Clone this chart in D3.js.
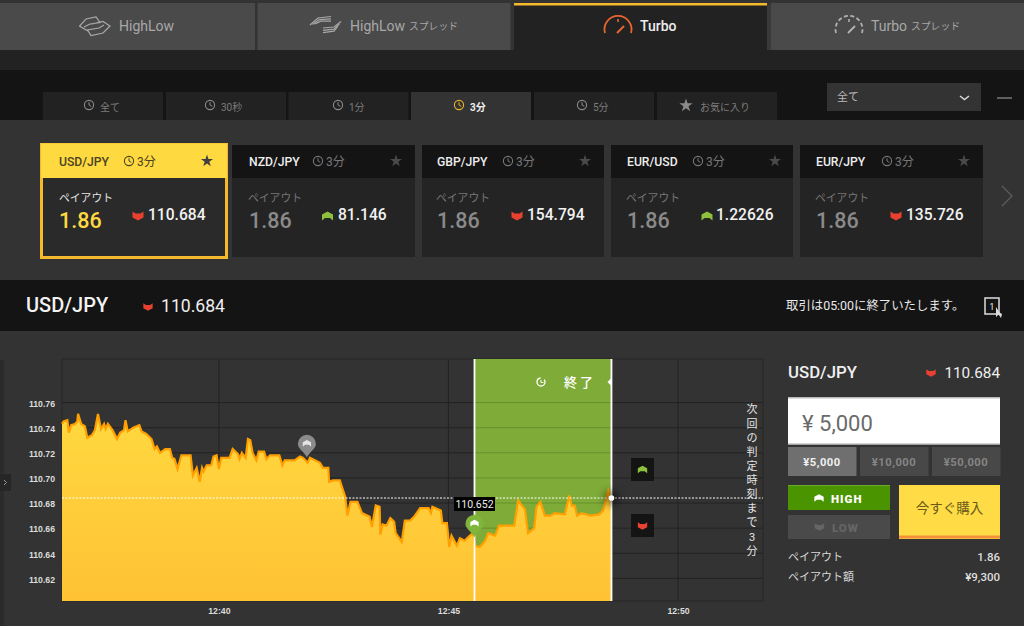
<!DOCTYPE html>
<html lang="ja"><head><meta charset="utf-8">
<script src="https://cdn.jsdelivr.net/npm/d3@7/dist/d3.min.js"></script>
<style>html,body{margin:0;padding:0;background:#333;overflow:hidden}svg{display:block}
text{font-family:Roboto,"Noto Sans CJK JP",sans-serif}</style></head><body>
<svg id="c" width="1024" height="626" viewBox="0 0 1024 626"></svg>
<script>
// seconds relative to 12:40:00
const seconds=[-205,-203,-198,-196,-193,-188,-185,-184,-180,-175,-172,-166,-162,-158,-154,-150,-148,-145,-139,-133,-129,-124,-122,-119,-112,-104,-101,-95,-88,-84,-81,-77,-70,-64,-61,-58,-54,-49,-37,-34,-29,-25,-22,-20,-16,-10,-7,-3,0,3,14,18,25,27,30,35,38,41,44,49,52,59,62,67,79,83,86,99,106,110,116,119,132,136,143,144,149,158,165,168,172,181,187,197,200,205,210,211,214,219,224,229,231,239,243,250,255,263,274,277,279,290,292,298,301,304,311,315,321,328,332,335,341,348,352,361,366,386,391,400,404,412,415,420,426,433,439,452,458,461,465,468,474,485,497,502,509,513];
const prices=[110.743,110.745,110.746,110.736,110.742,110.743,110.745,110.751,110.743,110.741,110.732,110.734,110.738,110.751,110.739,110.743,110.739,110.743,110.738,110.731,110.736,110.738,110.746,110.737,110.740,110.742,110.737,110.735,110.731,110.723,110.725,110.720,110.723,110.723,110.716,110.715,110.707,110.718,110.718,110.702,110.708,110.697,110.708,110.705,110.710,110.710,110.717,110.718,110.707,110.716,110.716,110.723,110.719,110.715,110.720,110.716,110.731,110.730,110.720,110.714,110.721,110.721,110.715,110.718,110.718,110.710,110.714,110.714,110.717,110.716,110.712,110.716,110.712,110.708,110.708,110.697,110.698,110.698,110.685,110.670,110.681,110.681,110.672,110.669,110.661,110.678,110.677,110.655,110.663,110.662,110.668,110.665,110.656,110.649,110.666,110.666,110.669,110.676,110.676,110.672,110.677,110.674,110.664,110.664,110.645,110.654,110.646,110.652,110.650,110.654,110.656,110.646,110.645,110.650,110.656,110.654,110.662,110.662,110.682,110.675,110.656,110.660,110.677,110.681,110.670,110.670,110.672,110.671,110.686,110.678,110.678,110.670,110.672,110.670,110.671,110.674,110.690,110.684];
const yTicks=[110.62,110.64,110.66,110.68,110.70,110.72,110.74,110.76];
const xTicks=[0,300,600];
const xTickLabels=["12:40","12:45","12:50"];
const currentPrice=110.684, entryPrice=110.652, entrySecond=334, expirySecond=513, markerSecond=115, markerPrice=110.722;
const subTabs=["全て","30秒","1分","3分","5分","お気に入り"];
const pairs=["USD/JPY","NZD/JPY","GBP/JPY","EUR/USD","EUR/JPY"];
const quotes=["110.684","81.146","154.794","1.22626","135.726"];
const directions=["down","up","down","up","down"];
const amounts=["¥5,000","¥10,000","¥50,000"];
const countdown=["次","回","の","判","定","時","刻","ま","で","3","分"];

const svg=d3.select("#c");
const RED="#e8412f",GRN="#8dc03c",YEL="#ffd940";
const rect=(x,y,w,h,f,g=svg)=>g.append("rect").attr("x",x).attr("y",y).attr("width",w).attr("height",h).attr("fill",f);
const txt=(x,y,s,size,fill,opt={},g=svg)=>g.append("text").attr("x",x).attr("y",y).text(s).attr("font-size",size).attr("fill",fill)
  .attr("font-weight",opt.w||400).attr("text-anchor",opt.a||"start").attr("font-family",opt.f||null);
function chev(x,y,dir,col,s=1,g=svg){ // centred chevron marker
  const d=dir==="up"?"M-5.5,4.5 L-5.5,-1.5 L0,-4.5 L5.5,-1.5 L5.5,4.5 L2.5,2 L-2.5,2 Z":"M-5.5,-4.5 L-2.5,-2.5 L2.5,-2.5 L5.5,-4.5 L5.5,1.5 L0,4.5 L-5.5,1.5 Z";
  g.append("path").attr("d",d).attr("transform",`translate(${x},${y}) scale(${s})`).attr("fill",col);
}
function clock(x,y,col,r=4.6){
  svg.append("circle").attr("cx",x).attr("cy",y).attr("r",r).attr("fill","none").attr("stroke",col).attr("stroke-width",1.1);
  svg.append("path").attr("d",`M${x},${y-r*.6} V${y} L${x+r*.5},${y+r*.3}`).attr("fill","none").attr("stroke",col).attr("stroke-width",1);
}
function star(x,y,r,col){
  svg.append("path").attr("d",d3.symbol().type(d3.symbolStar).size(r*r*2.6)()).attr("transform",`translate(${x},${y})`).attr("fill",col);
}
// page bands
rect(0,0,1024,626,"#333");
rect(0,50,1024,20,"#222");
rect(0,70,1024,50,"#141414");
rect(0,280,1024,51,"#141414");
// product tabs
const tabX=[0,257.5,514,771],tabW=[255,253,253,253];
tabX.forEach((tx,i)=>{
  const on=i===2;
  rect(tx,3,tabW[i],47,on?"#222":"#4a4a4a");
  if(on)rect(tx,3,tabW[i],2.5,"#f5b92e");
});
rect(767,5,4,45,"#3a3a3a");
const tc="#a8a8a8";
// tab icons
svg.append("path").attr("d","M88,31 L79.5,26 L86,19 L96,17 L100,22.5 L90,24 L84,27 M92,24 L103,21.5 L110,26 L103,33 L91,35.5 L87.5,30 L99,28 L104,25").attr("fill","none").attr("stroke",tc).attr("stroke-width",1.2);
[0,2.6,5.2].forEach(o=>{
  svg.append("path").attr("d",`M${310+o},${25-o*.2} L${318+o*.5},${18+o*.6} L${331},${16.5+o*.9}`).attr("fill","none").attr("stroke",tc).attr("stroke-width",1.2);
  svg.append("path").attr("d",`M${323},${28+o*.9} L${334},${27+o*.8} L${341-o*.6},${21.5+o*.9}`).attr("fill","none").attr("stroke",tc).attr("stroke-width",1.2);
});
function gauge(cx,col,dash){
  const p=svg.append("path").attr("d",`M${cx-13},33 A13.5,13.5 0 1 1 ${cx+13},33`).attr("fill","none").attr("stroke",col).attr("stroke-width",1.8);
  if(dash)p.attr("stroke-dasharray","4 2.5");
  svg.append("path").attr("d",`M${cx-1},33 L${cx+6},26`).attr("stroke",col).attr("stroke-width",2);
  svg.append("path").attr("d",`M${cx},19 V22`).attr("stroke",col).attr("stroke-width",1.6);
}
gauge(618,"#e8662f",false);gauge(849,"#b0b0b0",true);
txt(119,31,"HighLow",14,tc);
txt(350,31,"HighLow",14,tc);txt(409,30,"スプレッド",9.8,tc);
txt(640,31,"Turbo",14,"#eee",{w:500});
txt(871,31,"Turbo",14,tc);txt(911,30,"スプレッド",9.8,tc);
// sub tabs
const subX=[43,166,288.5,411,534,657];
const subTxtX=[100,221,349,470,593,700];
subTabs.forEach((s,i)=>{
  const on=i===3;
  rect(subX[i],92,120,28,on?"#333":"#222");
  const col=on?"#eee":"#7d7d7d";
  if(i<5)clock(subTxtX[i]-11,105,on?"#e8b52c":"#8a8a8a");
  else star(subTxtX[i]-14,105.5,4.6,"#8a8a8a");
  txt(subTxtX[i],111,s,10,col,{w:on?700:400});
});
rect(827,83,154,28,"#333");
txt(837,101,"全て",11,"#bbb");
svg.append("path").attr("d","M960,96 L964.5,99.5 L969,96").attr("fill","none").attr("stroke","#ddd").attr("stroke-width",1.4);
rect(997,97.5,15,1,"#aaa");
// cards
const cardX=[40,232,422,611,800],cardW=[188,183,182,182,183];
const pairDx=[19,17,15,16,16],clkX=[129,318,508,698,887],qX=[148,338,527,716,906],chX=[138,327.5,517,707,896],starX=[207,396,585,775,964];
pairs.forEach((p,i)=>{
  const first=i===0,x=cardX[i],w=cardW[i];
  if(first){
    rect(x,143,w,116,"#f5b92e");
    rect(x+1,143.5,w-2,34.5,YEL);
    rect(x+3,178,w-6,78,"#2a2a2a");
  }else{
    rect(x,145,w,112,"#242424");
    rect(x,145,w,33,"#141414");
  }
  txt(x+pairDx[i],166,p,12.2,first?"#4a4222":"#eee",{w:500});
  clock(clkX[i],161,first?"#4a4222":"#777",4.6);
  txt(clkX[i]+8,166,"3分",12,first?"#4a4222":"#777");
  star(starX[i],161,4.2,first?"#3f3f3f":"#4a4a4a");
  txt(x+pairDx[i]-(first?0:1),202,"ペイアウト",10.8,first?"#e6e6e6":"#777");
  txt(x+pairDx[i]-(first?0:1)+(first?0:1),228,"1.86",21.5,first?YEL:"#8a8a8a",{w:500});
  chev(chX[i],216,directions[i],directions[i]==="up"?GRN:RED);
  txt(qX[i],220,quotes[i],15.6,"#f2f2f2",{w:500});
});
svg.append("path").attr("d","M1002,186 L1012,196 L1002,206").attr("fill","none").attr("stroke","#5e5e5e").attr("stroke-width",1.2);
// header bar
txt(26,312,"USD/JPY",20,"#f2f2f2",{w:500});
chev(148,307,"down",RED,.85);
txt(161,312,"110.684",17.6,"#eee");
txt(786,310,"取引は05:00に終了いたします。",12.4,"#e8e8e8");
rect(985,298,14,16,"none").attr("stroke","#ddd").attr("stroke-width",1.5);
txt(992,310,"1",8.5,"#eee",{a:"middle"});
svg.append("path").attr("d","M996,307 L996,317 L998.5,314.5 L1001,318 L1002,314 L999.5,312.5 Z").attr("fill","#ddd");
// left handle
rect(0,360,4,266,"#2b2b2b");
rect(0,474,11,17,"#262626");
svg.append("path").attr("d","M4,480 L6.5,482.5 L4,485").attr("fill","none").attr("stroke","#999").attr("stroke-width",1);
// chart
const M={l:62,r:763,t:359,b:601};
const x=d3.scaleLinear().domain([-205,711]).range([M.l,M.r]);
const y=d3.scaleLinear().domain([110.602,110.7947]).range([M.b,M.t]);
const gridCol="#232323";
const grid=svg.append("g");
yTicks.forEach(v=>grid.append("line").attr("x1",M.l).attr("x2",M.r).attr("y1",y(v)).attr("y2",y(v)).attr("stroke",gridCol).attr("stroke-width",1));
xTicks.forEach(v=>grid.append("line").attr("x1",x(v)).attr("x2",x(v)).attr("y1",M.t).attr("y2",M.b).attr("stroke",gridCol).attr("stroke-width",1));
rect(M.l,M.t,M.r-M.l,M.b-M.t,"none").attr("stroke","#262626");
// green window
rect(x(entrySecond),M.t,x(expirySecond)-x(entrySecond),M.b-M.t,"#7fab39");
yTicks.forEach(v=>svg.append("line").attr("x1",x(entrySecond)).attr("x2",x(expirySecond)).attr("y1",y(v)).attr("y2",y(v)).attr("stroke","#66902c"));
// area + line
const series=seconds.map((s,i)=>({s,p:prices[i]}));
const defs=svg.append("defs");
const gr=defs.append("linearGradient").attr("id","ag").attr("x1",0).attr("x2",0).attr("y1",0).attr("y2",1);
gr.append("stop").attr("offset","0%").attr("stop-color","#ffd83f");
gr.append("stop").attr("offset","100%").attr("stop-color","#ffc234");
const blur=defs.append("filter").attr("id","sh").attr("x","-200%").attr("y","-200%").attr("width","500%").attr("height","500%");
blur.append("feGaussianBlur").attr("stdDeviation",4);
svg.append("path").datum(series).attr("fill","url(#ag)")
  .attr("d",d3.area().x(d=>x(d.s)).y0(M.b).y1(d=>y(d.p)));
svg.append("path").datum(series).attr("fill","none").attr("stroke","#ffa000").attr("stroke-width",2.2)
  .attr("d",d3.line().x(d=>x(d.s)).y(d=>y(d.p)));
// axes
const axisFont="Liberation Sans,Arial,sans-serif";
const yAxis=d3.axisLeft(y).tickValues(yTicks).tickSize(0).tickPadding(0).tickFormat(d3.format(".2f"));
const gy=svg.append("g").attr("transform",`translate(55,1)`).call(yAxis);
gy.select(".domain").remove();
gy.selectAll("text").attr("font-size",8.7).attr("fill","#dcdcdc").attr("font-weight",700).style("font-family",axisFont);
const xAxis=d3.axisBottom(x).tickValues(xTicks).tickSize(0).tickPadding(0).tickFormat((d,i)=>xTickLabels[i]);
const gx=svg.append("g").attr("transform",`translate(0,608)`).call(xAxis);
gx.select(".domain").remove();
gx.selectAll("text").attr("font-size",8.7).attr("fill","#dcdcdc").attr("font-weight",700).style("font-family",axisFont);
// window edges and current line
[entrySecond,expirySecond].forEach(s=>rect(x(s)-.9,M.t,1.8,M.b-M.t,"#fff"));
svg.append("line").attr("x1",M.l).attr("x2",M.r).attr("y1",y(currentPrice)).attr("y2",y(currentPrice)).attr("stroke","#fff").attr("stroke-width",1).attr("stroke-dasharray","2 1.5");
svg.append("circle").attr("cx",x(expirySecond)).attr("cy",y(currentPrice)).attr("r",7).attr("fill","#000").attr("opacity",.55).attr("filter","url(#sh)");
svg.append("circle").attr("cx",x(expirySecond)).attr("cy",y(currentPrice)).attr("r",2.8).attr("fill","#fff");
// window label
svg.append("circle").attr("cx",541).attr("cy",382).attr("r",4).attr("fill","none").attr("stroke","#fff").attr("stroke-width",1.3).attr("stroke-dasharray","18 4");
svg.append("path").attr("d","M541,380 V382.5 H543.5").attr("fill","none").attr("stroke","#fff");
txt(564,387,"終了",13,"#fff",{w:500}).attr("letter-spacing",3);
svg.append("path").attr("d","M607.5,382 L611,378.5 L611,385.5 Z").attr("fill","#fff");
// pins
function pin(cx,tip,col,ic){
  svg.append("path").attr("d",`M${cx},${tip} C${cx-3},${tip-6} ${cx-9},${tip-8} ${cx-9},${tip-13.5} A9,9 0 1 1 ${cx+9},${tip-13.5} C${cx+9},${tip-8} ${cx+3},${tip-6} ${cx},${tip} Z`).attr("fill",col);
  chev(cx,tip-14,"up",ic,.75);
}
pin(x(markerSecond),y(markerPrice)+7,"#8b8b8b","#e4e4e4");
pin(x(entrySecond),y(entryPrice)-1,"#80b53c","#fff");
// entry tooltip
rect(x(entrySecond)-20.5,497,41,14,"#000");
txt(x(entrySecond),508,d3.format(".3f")(entryPrice),10.5,"#eee",{a:"middle",f:"Roboto,Arial,sans-serif"});
// next up/down buttons
rect(631,458,23,23,"#141414");chev(642.5,469.5,"up",GRN,.85);
rect(631,514,23,23,"#141414");chev(642.5,526,"down",RED,.85);
// countdown
const cdY=[413,428,442,456,470,484,498,512,526,541,555];
countdown.forEach((c,i)=>txt(752,cdY[i],c,11,"#e6e6e6",{a:"middle"}));
// trading panel
txt(788,378,"USD/JPY",16.8,"#f0f0f0",{w:500});
chev(931,373,"down",RED,.85);
txt(1000,378,"110.684",15.3,"#eee",{a:"end"});
rect(788,397,212,47.5,"#fff");rect(788,397,212,1.5,"#bbb");rect(788,443.5,212,1,"#aaa");
txt(802,431,"¥ 5,000",22,"#6a6a6a");
const amtX=[788,860,932];
amounts.forEach((a,i)=>{
  rect(amtX[i],447,68.5,29,i===0?"#6f6f6f":"#484848");
  txt(amtX[i]+34,466,a,11.2,i===0?"#f0f0f0":"#858585",{a:"middle",w:700}).attr("letter-spacing",.5);
});
rect(788,485,102,25,"#4a9400");rect(788,485,102,1,"#6aa92a");
chev(819,498,"up","#fff",.85);
txt(831,503,"HIGH",11.5,"#fff",{w:900}).attr("letter-spacing",1);
rect(788,515,102,24,"#4a4a4a");
chev(819.5,527,"down","#656565",.85);
txt(832,531.5,"LOW",11.5,"#656565",{w:900}).attr("letter-spacing",1);
rect(899,485,101,54,"#ffdc45");rect(899,535.5,101,3,"#f2913a");
txt(949.5,513,"今すぐ購入",13.5,"#6b5a17",{a:"middle"});
txt(788,561,"ペイアウト",11,"#d8d8d8");
txt(1000,561,"1.86",11.5,"#ddd",{a:"end",w:500});
txt(788,581,"ペイアウト額",11,"#d8d8d8");
txt(1000,581,"¥9,300",11.5,"#ddd",{a:"end",w:500});
</script></body></html>
